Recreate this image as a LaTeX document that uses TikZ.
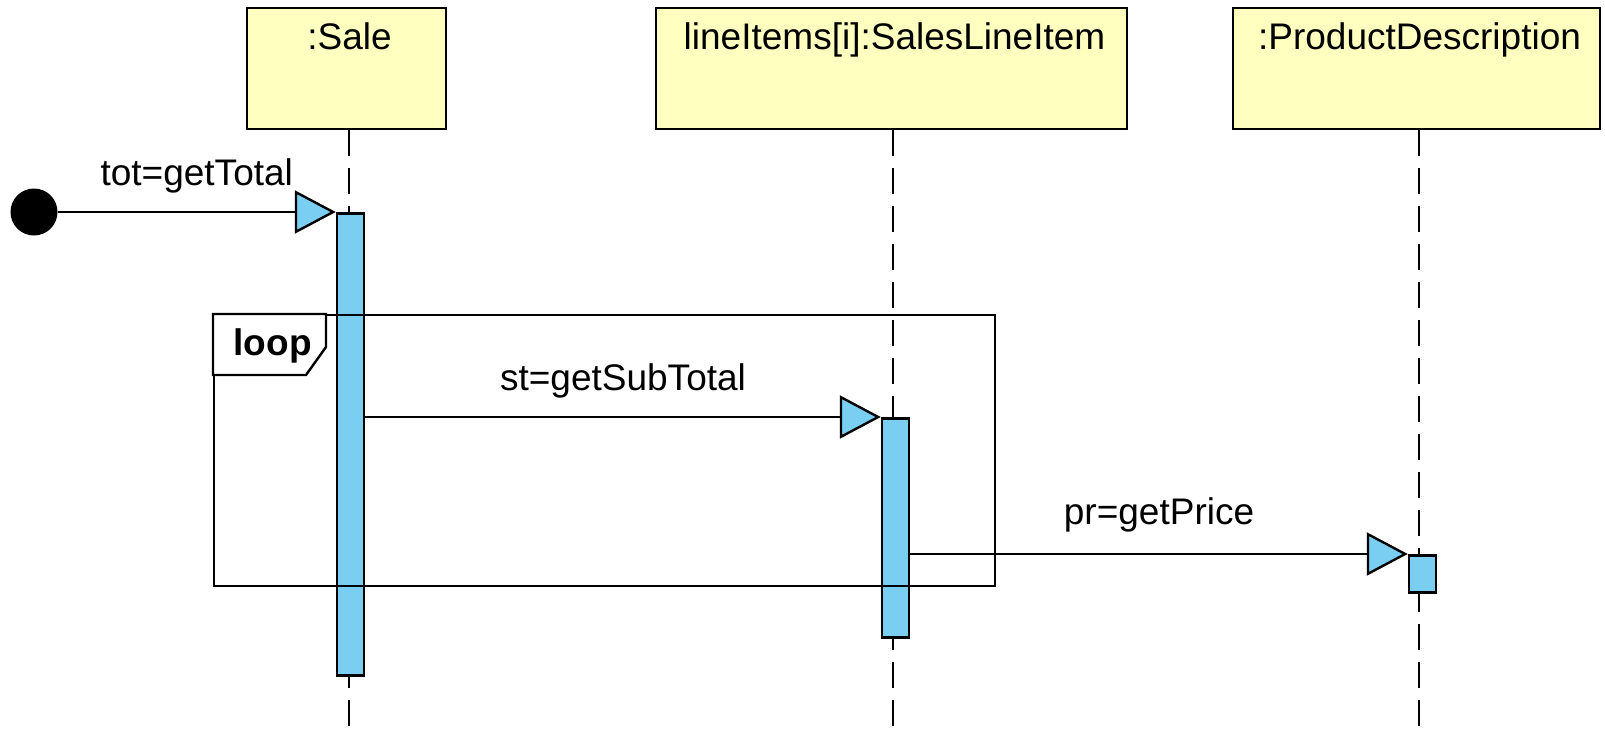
\documentclass[tikz,border=0pt]{standalone}
\usepackage{fontspec}
\setmainfont{Liberation Sans}
\usetikzlibrary{arrows.meta}
\definecolor{objfill}{RGB}{255,255,192}
\definecolor{actfill}{RGB}{122,206,242}
\definecolor{ink}{RGB}{0,0,0}
\begin{document}
\begin{tikzpicture}[x=1pt,y=-1pt,
  every node/.style={font=\fontsize{37}{42}\selectfont, text=ink},
  objbox/.style={draw=ink, line width=2.8pt, fill=objfill, minimum width=#1,
    minimum height=121pt, inner sep=0pt},
  objname/.style={anchor=base, xshift=3pt, yshift=-43pt},
  lifeline/.style={draw=ink, line width=2.8pt, dash pattern=on 26pt off 12pt},
  act/.style={draw=ink, line width=2.5pt, fill=actfill, minimum width=27pt,
    inner sep=0pt, anchor=north},
  msg/.style={draw=ink, line width=2.4pt,
    -{Triangle[length=41pt,width=43pt,fill=actfill,line width=2.4pt]}},
  msglabel/.style={midway, anchor=base, yshift=27pt},
  frame/.style={draw=ink, line width=2.4pt}]
\useasboundingbox (0,0) rectangle (1605,728);

% participants
\node[objbox=199] (sale) at (346.5,68.5) {};
\node[objbox=471] (sli) at (891.5,68.5) {};
\node[objbox=367] (pd) at (1416.5,68.5) {};
\node[objname] (saletxt) at (sale.north) {:Sale};
\node[objname] (slitxt) at (sli.north) {lineItems[i]:SalesLineItem};
\node[objname] (pdtxt) at (pd.north) {:ProductDescription};

% lifelines
\coordinate (saleend) at (349,728);
\coordinate (sliend) at (893,728);
\coordinate (pdend) at (1419,728);
\draw[lifeline] (sale.south -| saleend) -- (saleend);
\draw[lifeline] (sli.south -| sliend) -- (sliend);
\draw[lifeline] (pd.south -| pdend) -- (pdend);

% activation bars
\node[act, minimum height=462pt] (saleact) at (350.5,212) {};
\node[act, minimum height=219pt] (sliact) at (895.5,417) {};
\node[act, minimum height=37pt] (pdact) at (1422.5,554) {};

% loop fragment
\node[frame, minimum width=781pt, minimum height=271pt, inner sep=0pt,
  anchor=north west] (loopframe) at (213,314) {};
\draw[frame, fill=white] (loopframe.north west) -- (326,314) -- (326,347)
  -- (306,375) -- (213,375) -- cycle;
\node[anchor=base west, font=\fontsize{37}{42}\selectfont\bfseries]
  (looplbl) at (230,355) {loop};

% found message start
\node[circle, fill=ink, minimum size=47pt, inner sep=0pt] (start) at (34,212) {};

% messages
\draw[msg] (start.east) -- (saleact.north west)
  node[msglabel] (totlbl) {tot=getTotal};
\draw[msg] (saleact.east |- sliact.north west) -- (sliact.north west)
  node[msglabel] (stlbl) {st=getSubTotal};
\draw[msg] (sliact.east |- pdact.north west) -- (pdact.north west)
  node[msglabel, yshift=3pt] (prlbl) {pr=getPrice};
\end{tikzpicture}
\end{document}
